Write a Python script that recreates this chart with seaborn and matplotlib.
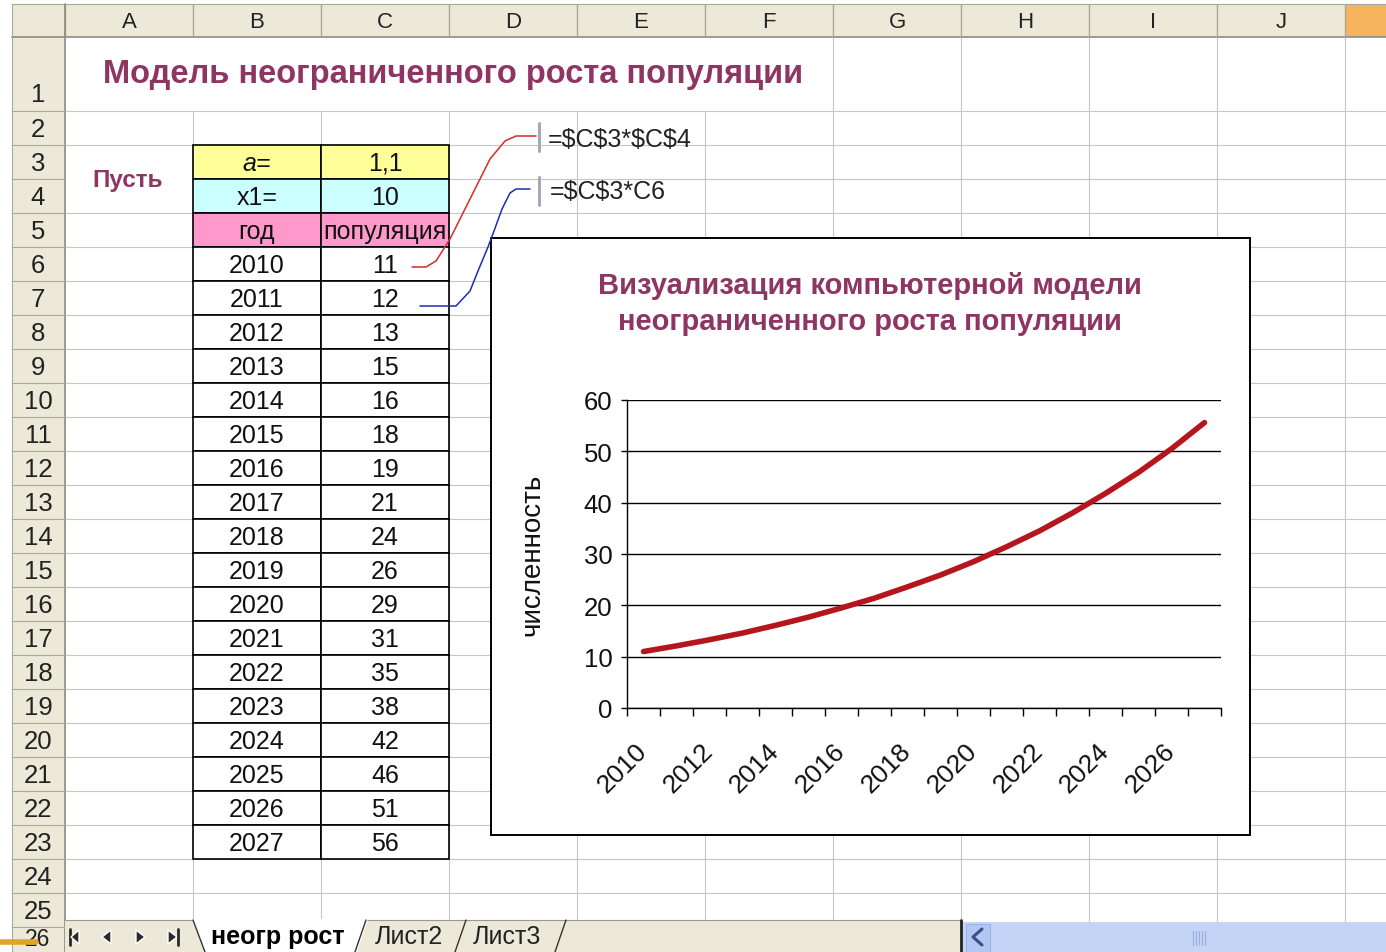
import numpy as np
import pandas as pd
import matplotlib
matplotlib.use("Agg")
import matplotlib.pyplot as plt
import seaborn as sns
from matplotlib.patches import Rectangle, Polygon

# данные модели
a_coef = "1,1"
x1 = "10"
years = [str(y) for y in range(2010, 2028)]
pop_table = [11, 12, 13, 15, 16, 18, 19, 21, 24, 26, 29, 31, 35, 38, 42, 46, 51, 56]
pop_chart = [11.0, 12.1, 13.3, 14.6, 16.1, 17.7, 19.5, 21.4, 23.6, 25.9,
             28.5, 31.4, 34.5, 38.0, 41.8, 45.9, 50.5, 55.6]
col_letters = ["A", "B", "C", "D", "E", "F", "G", "H", "I", "J"]

sns.set_theme(style="white")
plt.rcParams["font.family"] = ["Liberation Sans", "DejaVu Sans"]

W, H = 1386, 953
fig = plt.figure(figsize=(W / 100, H / 100), dpi=100)
fig.patch.set_facecolor("white")

# лист Excel рисуем в пикселях
bg = fig.add_axes([0, 0, 1, 1])
bg.set_xlim(0, W)
bg.set_ylim(H, 0)
bg.axis("off")

plum = "#8E3563"
grid_c = "#C6C6C6"
head_bg = "#ECE9D8"
head_ln = "#ACA899"

cols = [65, 193, 321, 449, 577, 705, 833, 961, 1089, 1217, 1345]
row_tops = [38] + [112 + 34 * k for k in range(25)]   # строки 1..26

# сетка ячеек
for i, y in enumerate(row_tops[1:]):
    x0 = 65
    if y == 180:  # объединённые A3:A4
        x0 = 193
    bg.plot([x0, W], [y, y], color=grid_c, lw=0.8, zorder=1)
for x in cols[1:]:
    y0 = 38
    if x <= 705:  # заголовок в строке 1 перекрывает линии
        y0 = 112
    bg.plot([x, x], [y0, H], color=grid_c, lw=0.8, zorder=1)

# заголовки столбцов
bg.add_patch(Rectangle((12, 5), W - 12, 33, facecolor=head_bg, edgecolor="none", zorder=2))
bg.add_patch(Rectangle((1345, 5), W - 1345, 33, facecolor="#F6B45E", edgecolor="none", zorder=2))
bg.plot([12, W], [38, 38], color="#8C8A80", lw=1.2, zorder=3)
bg.plot([12, W], [5, 5], color=head_ln, lw=0.8, zorder=3)
for i, x in enumerate(cols):
    bg.plot([x, x], [5, 38], color=head_ln, lw=1, zorder=3)
    if i < len(col_letters):
        bg.text((x + cols[i + 1]) / 2, 22, col_letters[i], ha="center", va="center",
                fontsize=16, color="#222222", zorder=4)

# заголовки строк
bg.add_patch(Rectangle((12, 38), 53, H - 38, facecolor=head_bg, edgecolor="none", zorder=2))
bg.plot([65, 65], [5, H], color="#8C8A80", lw=1.2, zorder=3)
bg.plot([12, 12], [5, H], color=head_ln, lw=0.8, zorder=3)
bounds = row_tops + [row_tops[-1] + 34]
for r in range(26):
    y_top, y_bot = bounds[r], bounds[r + 1]
    bg.plot([12, 65], [y_bot, y_bot], color=head_ln, lw=0.8, zorder=3)
    yc = (y_top + y_bot) / 2 + 1 if r > 0 else 95
    fs = 18.5
    if r == 25:  # последняя строка видна не целиком
        yc, fs = 940, 16.5
    bg.text(38, yc, str(r + 1), ha="center", va="center", fontsize=fs,
            color="#222222", zorder=4)

# заголовок листа
bg.text(103, 75, "Модель неограниченного роста популяции", ha="left", va="center",
        fontsize=23.5, fontweight="bold", color=plum, zorder=4)
bg.text(128, 180, "Пусть", ha="center", va="center", fontsize=17.5,
        fontweight="bold", color=plum, zorder=4)

# таблица B3:C23
fills = {3: "#FFFF99", 4: "#CCFFFF", 5: "#FF99CC"}
for r in range(3, 24):
    y0 = 112 + 34 * (r - 2)
    for x0 in (193, 321):
        bg.add_patch(Rectangle((x0, y0), 128, 34, facecolor=fills.get(r, "white"),
                               edgecolor="black", lw=1.2, zorder=5))
tbl_kw = dict(ha="center", va="center", fontsize=18, color="#111111", zorder=6)
bg.text(257, 164, "a=", style="italic", **tbl_kw)
bg.text(385, 164, a_coef, **tbl_kw)
bg.text(257, 198, "x1=", **tbl_kw)
bg.text(385, 198, x1, **tbl_kw)
bg.text(257, 232, "год", **tbl_kw)
bg.text(385, 232, "популяция", **tbl_kw)
for k, (yr, p) in enumerate(zip(years, pop_table)):
    yc = 266 + 34 * k
    bg.text(257, yc, yr, **tbl_kw)
    bg.text(385, yc, str(p), **tbl_kw)

# выноски с формулами
red_x = [412, 426, 436, 450, 470, 490, 505, 516, 536]
red_y = [268, 268, 262, 240, 200, 160, 142, 137, 137]
blue_x = [420, 456, 470, 478, 488, 494, 502, 510, 516, 530]
blue_y = [307, 307, 292, 272, 248, 232, 210, 194, 190, 190]
bg.plot(red_x, red_y, color="#D42A2A", lw=1.1, zorder=8)
bg.plot(blue_x, blue_y, color="#1F2BB5", lw=1.1, zorder=8)
bg.plot([539, 539], [124, 152], color="#A8A8B8", lw=2.2, zorder=8)
bg.plot([539, 539], [178, 206], color="#A8A8B8", lw=2.2, zorder=8)
bg.text(548, 140, "=$C$3*$C$4", ha="left", va="center", fontsize=18,
        color="#222222", parse_math=False, zorder=8)
bg.text(550, 192, "=$C$3*C6", ha="left", va="center", fontsize=18,
        color="#222222", parse_math=False, zorder=8)

# рамка диаграммы
bg.add_patch(Rectangle((491, 239), 759, 597, facecolor="white", edgecolor="black",
                       lw=1.4, zorder=7))
bg.text(870, 304, "Визуализация компьютерной модели\nнеограниченного роста популяции",
        ha="center", va="center", fontsize=21, fontweight="bold", color=plum,
        linespacing=1.4, zorder=9)

# панель ярлыков листов
bg.add_patch(Rectangle((65, 921), 896, H - 921, facecolor=head_bg, edgecolor="none", zorder=9))
bg.plot([65, 961], [921, 921], color="#9A9890", lw=0.8, zorder=10)
bg.add_patch(Polygon([(193, 920), (368, 920), (357, 953), (205, 953)], closed=True,
                     facecolor="white", edgecolor="none", zorder=10))
for xs in ([193, 205], [355, 366], [455, 466], [555, 566]):
    yy = [921, 953] if xs[0] == 193 else [953, 921]
    bg.plot(xs, yy, color="#333333", lw=1, zorder=11)
bg.text(278, 937, "неогр рост", ha="center", va="center", fontsize=18,
        fontweight="bold", color="black", zorder=11)
bg.text(409, 937, "Лист2", ha="center", va="center", fontsize=18, color="#222222", zorder=11)
bg.text(507, 937, "Лист3", ha="center", va="center", fontsize=18, color="#222222", zorder=11)
# кнопки навигации
nav = "#2A2A2A"
bg.plot([70, 70], [930, 946], color=nav, lw=2, zorder=11)
bg.add_patch(Polygon([(71, 938), (79, 931), (79, 945)], facecolor=nav, zorder=11))
bg.add_patch(Polygon([(102, 938), (111, 931), (111, 945)], facecolor=nav, zorder=11))
bg.add_patch(Polygon([(145, 938), (136, 931), (136, 945)], facecolor=nav, zorder=11))
bg.add_patch(Polygon([(177, 938), (168, 931), (168, 945)], facecolor=nav, zorder=11))
bg.plot([178, 178], [930, 946], color=nav, lw=2, zorder=11)
# полоса прокрутки
bg.plot([961, 961], [921, 953], color="#222222", lw=2, zorder=11)
bg.add_patch(Rectangle((963, 923), W - 963, 30, facecolor="#C3D4F7", edgecolor="none", zorder=10))
bg.add_patch(Rectangle((966, 925), 24, 28, facecolor="#B2C8F2", edgecolor="#9DB4E6", lw=0.8, zorder=11))
bg.plot([982, 973, 982], [930, 938, 946], color="#3B4F8C", lw=2.2, zorder=12)
for gx in (1193, 1196, 1199, 1202, 1205):
    bg.plot([gx, gx], [932, 946], color="#9AAEDC", lw=0.8, zorder=12)
bg.plot([0, 36], [943, 943], color="#E0A526", lw=4, zorder=12)

# сама диаграмма
df = pd.DataFrame({"год": years, "численность": pop_chart})
ax = fig.add_axes([627 / W, 1 - 709 / H, 594 / W, 308 / H], zorder=20)
ax.patch.set_alpha(0)
sns.lineplot(data=df, x="год", y="численность", ax=ax, color="#B5161D",
             lw=4, sort=False)
ax.set_xlim(-0.5, len(years) - 0.5)
ax.set_ylim(0, 60)
ax.set_yticks(range(0, 61, 10))
ax.yaxis.grid(True, color="black", lw=1)
ax.xaxis.grid(False)
ax.set_axisbelow(True)
for s in ("top", "right"):
    ax.spines[s].set_visible(False)
for s in ("left", "bottom"):
    ax.spines[s].set_color("black")
    ax.spines[s].set_linewidth(1)

ax.set_xticks(range(0, len(years), 2))
ax.set_xticklabels(years[::2], rotation=45, ha="right", va="center",
                   rotation_mode="anchor", fontsize=19, color="#111111")
ax.set_xticks(np.arange(-0.5, len(years), 1), minor=True)
ax.tick_params(axis="x", which="major", length=0, pad=28)
ax.tick_params(axis="x", which="minor", length=6, width=1, color="black",
               direction="out", bottom=True)
ax.tick_params(axis="y", length=4.5, width=1, color="black", direction="out",
               left=True, pad=6, labelsize=18.5, labelcolor="#111111")
ax.set_xlabel("")
ax.set_ylabel("численность", fontsize=20, color="#111111")
ax.yaxis.set_label_coords((545 - 627) / 594, 0.5)

fig.savefig("out.png", dpi=100)
